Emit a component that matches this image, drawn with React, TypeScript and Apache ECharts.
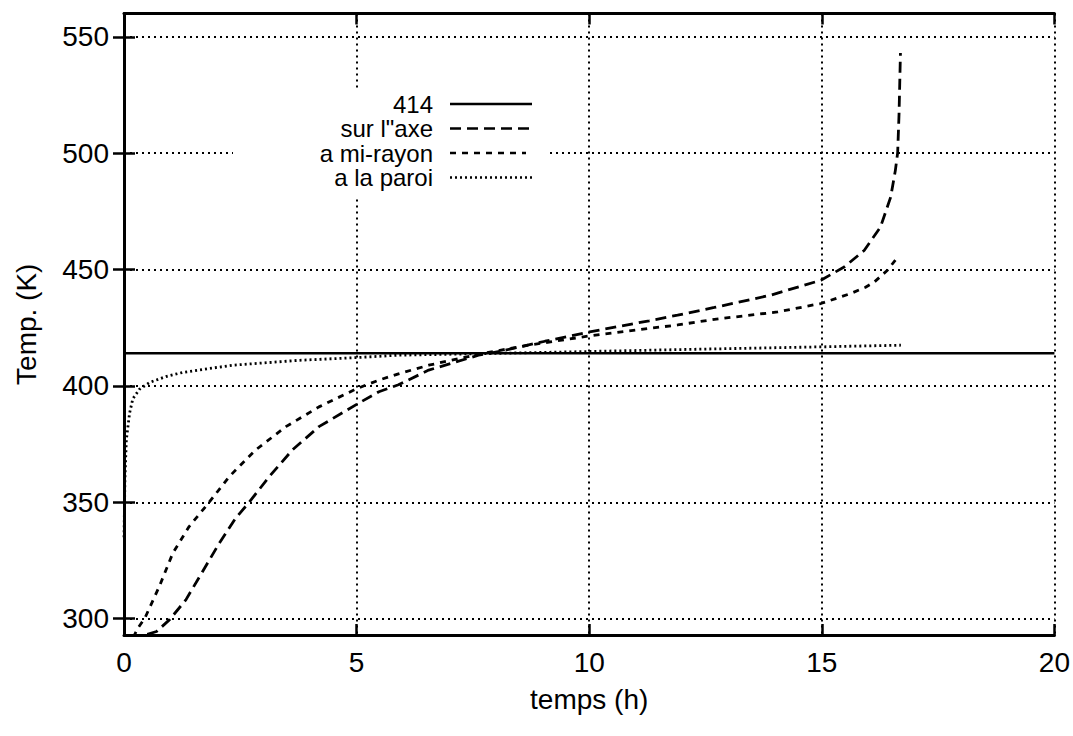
import React, { useEffect, useRef } from "react";
import * as echarts from "echarts";

const FONT = '"Liberation Sans", Arial, Helvetica, sans-serif';

const xTicks = [0, 5, 10, 15, 20];
const yTickLabels = [300, 350, 400, 450, 500, 550];

const seriesNames = ["414", 'sur l"axe', "a mi-rayon", "a la paroi"];

const ref414: [number, number][] = [
  [0, 414],
  [20, 414],
];

const surAxe: [number, number][] = [
  [0.5, 293.3], [0.7, 294.5], [0.98, 299.6], [1.33, 308.1], [1.69, 320.3],
  [2.05, 332.5], [2.4, 343.2], [2.69, 350], [3.12, 361], [3.62, 372.5],
  [4.19, 382.5], [5.01, 392.2], [5.48, 397.5], [5.9, 400.5], [6.55, 406.8],
  [7.62, 413.2], [8.11, 415], [9.05, 419.2], [10.01, 423.2], [11.29, 428],
  [11.9, 430.4], [12.69, 433.7], [13.9, 439], [14.98, 445.4], [15.48, 451.1],
  [15.91, 458.2], [16.26, 468.2], [16.48, 481.1], [16.58, 492.5], [16.63, 500.1],
  [16.66, 516.9], [16.69, 543],
];

const miRayon: [number, number][] = [
  [0.2, 292], [0.3, 296], [0.45, 300.3], [0.76, 313.9], [1.05, 328.2],
  [1.4, 339.6], [1.83, 350], [2.26, 361], [2.83, 372.5], [3.48, 382.5],
  [4.19, 391], [5.01, 398.9], [5.48, 402.5], [5.9, 405.2], [6.55, 408.9],
  [7.62, 413.6], [8.69, 417.5], [10.01, 421.5], [11.29, 424.7], [11.9, 426.2],
  [12.69, 428.6], [14.05, 431.8], [14.98, 435.4], [15.62, 439.7], [15.94, 442.4],
  [16.12, 444.5], [16.41, 449.7], [16.66, 456.1],
];

const paroi: [number, number][] = [
  [0, 335], [0.02, 360], [0.05, 376.8], [0.12, 388.3], [0.19, 394.5],
  [0.33, 398.5], [0.55, 401.5], [0.9, 404], [1.26, 405.8], [2.33, 408.9],
  [3.76, 411], [5.01, 412.2], [5.9, 413.2], [8, 414], [10, 414.8],
  [11.9, 415.6], [15, 416.8], [16.7, 417.5],
];

const seriesData = [ref414, surAxe, miRayon, paroi];
const dashes: (string | number[])[] = ["solid", [11, 6], [6, 6], [2, 3]];

export default function App() {
  const ref = useRef<HTMLDivElement>(null);

  useEffect(() => {
    if (!ref.current) return;
    document.body.style.margin = "0";
    const chart = echarts.init(ref.current, null, { renderer: "svg" });

    const gridLine = { show: true, lineStyle: { color: "#000", width: 2, type: [2, 4] as number[] } };
    const tickStyle = { show: true, inside: true, length: 11, lineStyle: { color: "#000", width: 2.5 } };
    const axisLine = { show: true, lineStyle: { color: "#000", width: 3 } };

    const legendRowY = [104, 128.5, 153, 177.5];
    const legendGraphics: any[] = [
      { type: "rect", shape: { x: 233, y: 90, width: 315, height: 108 }, style: { fill: "#fff" }, z: 5 },
    ];
    seriesNames.forEach((name, i) => {
      legendGraphics.push({
        type: "text",
        x: 433,
        y: legendRowY[i],
        z: 6,
        style: {
          text: name,
          fontSize: 24,
          lineHeight: 22,
          fontFamily: FONT,
          fill: "#000",
          align: "right",
          verticalAlign: "middle",
        },
      });
      const d = dashes[i];
      legendGraphics.push({
        type: "line",
        z: 6,
        shape: { x1: 450, y1: legendRowY[i], x2: i === 2 ? 526 : 532, y2: legendRowY[i] },
        style: {
          stroke: "#000",
          lineWidth: 2.5,
          lineDash: Array.isArray(d) ? d : null,
        },
      });
    });

    chart.setOption({
      animation: false,
      backgroundColor: "#fff",
      textStyle: { fontFamily: FONT },
      grid: { left: 124, right: 17, top: 13.5, bottom: 101, containLabel: false },
      xAxis: [
        {
          type: "value",
          position: "bottom",
          min: 0,
          max: 20,
          interval: 5,
          axisLine,
          axisTick: tickStyle,
          splitLine: gridLine,
          axisLabel: {
            color: "#000",
            fontSize: 28,
            fontFamily: FONT,
            margin: 13,
            customValues: xTicks,
          },
          name: "temps (h)",
          nameLocation: "middle",
          nameGap: 50,
          nameTextStyle: { color: "#000", fontSize: 28, fontFamily: FONT },
        },
        {
          type: "value",
          position: "top",
          min: 0,
          max: 20,
          interval: 5,
          axisLine,
          axisTick: tickStyle,
          splitLine: { show: false },
          axisLabel: { show: false },
        },
      ],
      yAxis: [
        {
          type: "value",
          position: "left",
          min: 293,
          max: 560,
          splitNumber: 5,
          axisLine,
          axisTick: { ...tickStyle, customValues: yTickLabels },
          splitLine: gridLine,
          axisLabel: {
            color: "#000",
            fontSize: 28,
            fontFamily: FONT,
            margin: 15,
            customValues: yTickLabels,
          },
          name: "Temp. (K)",
          nameLocation: "middle",
          nameGap: 84,
          nameTextStyle: { color: "#000", fontSize: 28, fontFamily: FONT },
        },
        {
          type: "value",
          position: "right",
          min: 293,
          max: 560,
          splitNumber: 5,
          axisLine,
          axisTick: { ...tickStyle, customValues: yTickLabels },
          splitLine: { show: false },
          axisLabel: { show: false },
        },
      ],
      series: seriesData.map((data, i) => ({
        name: seriesNames[i],
        type: "line",
        xAxisIndex: 0,
        yAxisIndex: 0,
        data,
        showSymbol: false,
        symbol: "none",
        smooth: false,
        clip: true,
        lineStyle: { color: "#000", width: i === 0 ? 2.5 : 2.8, type: dashes[i] },
        z: 3,
      })),
      graphic: legendGraphics,
    });

    return () => chart.dispose();
  }, []);

  return <div ref={ref} style={{ position: "fixed", left: 0, top: 0, width: 1073, height: 736 }} />;
}
